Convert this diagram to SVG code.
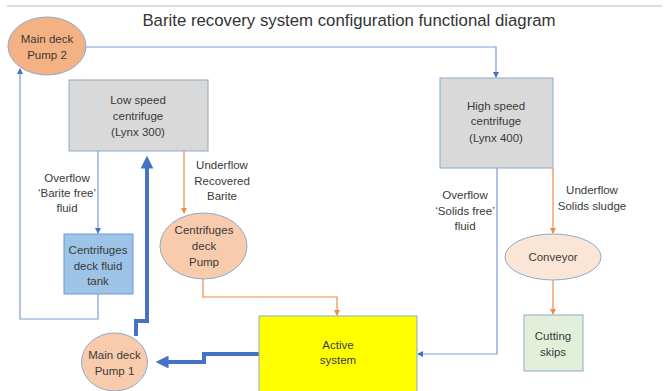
<svg xmlns="http://www.w3.org/2000/svg" width="672" height="391" viewBox="0 0 672 391">
<defs>
<style>
text{font-family:"Liberation Sans",Arial,sans-serif;font-size:11.5px;fill:#3a3a3a;text-anchor:middle}
.title{font-size:16.8px;fill:#333}
.box{stroke:#8EA9C8;stroke-width:1}
.thin{fill:none;stroke:#7E9BD8;stroke-width:1.2}
.org{fill:none;stroke:#F08A4B;stroke-width:1.2}
.thick{fill:none;stroke:#4472C4;stroke-width:4}
</style>
<marker id="ab" viewBox="0 0 6 6" refX="5" refY="3" markerWidth="5" markerHeight="5" orient="auto"><path d="M0,0 L6,3 L0,6 z" fill="#4472C4"/></marker>
<marker id="ao" viewBox="0 0 6 6" refX="5" refY="3" markerWidth="5" markerHeight="5" orient="auto"><path d="M0,0 L6,3 L0,6 z" fill="#F08A4B"/></marker>
<marker id="at" viewBox="0 0 6 6" refX="4" refY="3" markerWidth="3.2" markerHeight="3.2" orient="auto"><path d="M0,0 L6,3 L0,6 z" fill="#4472C4"/></marker>
</defs>
<rect width="672" height="391" fill="#fff"/>
<line x1="7" y1="6" x2="662" y2="6" stroke="#bbb" stroke-width="1"/>
<text class="title" x="349" y="26">Barite recovery system configuration functional diagram</text>

<g id="connectors">
<path class="thin" d="M86,47 H496 V77" marker-end="url(#ab)"/>
<path class="thin" d="M98,294 V319 H20 V69" marker-end="url(#ab)"/>
<path class="thin" d="M98,151 V233" marker-end="url(#ab)"/>
<path class="org" d="M184,151 V213" marker-end="url(#ao)"/>
<path class="org" d="M203,279 V297 H337 V315" marker-end="url(#ao)"/>
<path class="thin" d="M497,168 V354 H418" marker-end="url(#ab)"/>
<path class="org" d="M553,168 V233" marker-end="url(#ao)"/>
<path class="org" d="M553,280 V314" marker-end="url(#ao)"/>
<path class="thick" d="M136,336 V321 H147 V160" marker-end="url(#at)"/>
<path class="thick" d="M259,354 H204 V362 H160" marker-end="url(#at)"/>
<text x="67" y="182">Overflow</text>
<text x="67" y="197">‘Barite free’</text>
<text x="67" y="212">fluid</text>
<text x="222" y="169">Underflow</text>
<text x="222" y="185">Recovered</text>
<text x="222" y="200">Barite</text>
<text x="465" y="199">Overflow</text>
<text x="465" y="215">‘Solids free’</text>
<text x="465" y="230">fluid</text>
<text x="592" y="194">Underflow</text>
<text x="592" y="210">Solids sludge</text>
</g>

<g id="pump2">
<ellipse cx="47" cy="46" rx="39" ry="29" fill="#F4B183" stroke="#8EA9C8"/>
<text x="47" y="43">Main deck</text>
<text x="47" y="59">Pump 2</text>
</g>
<g id="lowspeed">
<rect class="box" x="69" y="80" width="139" height="71" fill="#D9D9D9"/>
<text x="138" y="104">Low speed</text>
<text x="138" y="120">centrifuge</text>
<text x="138" y="136">(Lynx 300)</text>
</g>
<g id="highspeed">
<rect class="box" x="440" y="78" width="113" height="90" fill="#D9D9D9"/>
<text x="496" y="110">High speed</text>
<text x="496" y="125">centrifuge</text>
<text x="496" y="142">(Lynx 400)</text>
</g>
<g id="tank">
<rect x="64" y="234" width="69" height="60" fill="#9DC3E6" stroke="#6F9BD0"/>
<text x="98" y="254">Centrifuges</text>
<text x="98" y="270">deck fluid</text>
<text x="98" y="285">tank</text>
</g>
<g id="cdpump">
<ellipse cx="203.5" cy="246" rx="43.5" ry="33" fill="#F8CBAD" stroke="#8EA9C8"/>
<text x="204" y="234">Centrifuges</text>
<text x="204" y="250">deck</text>
<text x="204" y="266">Pump</text>
</g>
<g id="active">
<rect x="259" y="316" width="158" height="80" fill="#FFFF00" stroke="#8EA9C8"/>
<text x="338" y="349">Active</text>
<text x="338" y="364">system</text>
</g>
<g id="pump1">
<ellipse cx="114.5" cy="362" rx="33" ry="29" fill="#F8CBAD" stroke="#8EA9C8"/>
<text x="114.5" y="359">Main deck</text>
<text x="114.5" y="375">Pump 1</text>
</g>
<g id="conveyor">
<ellipse cx="553" cy="257" rx="48" ry="23" fill="#FBE5D6" stroke="#8EA9C8"/>
<text x="553" y="261">Conveyor</text>
</g>
<g id="skips">
<rect x="524" y="315" width="59" height="56" fill="#E2F0D9" stroke="#8EA9C8"/>
<text x="553" y="340">Cutting</text>
<text x="553" y="356">skips</text>
</g>
</svg>
